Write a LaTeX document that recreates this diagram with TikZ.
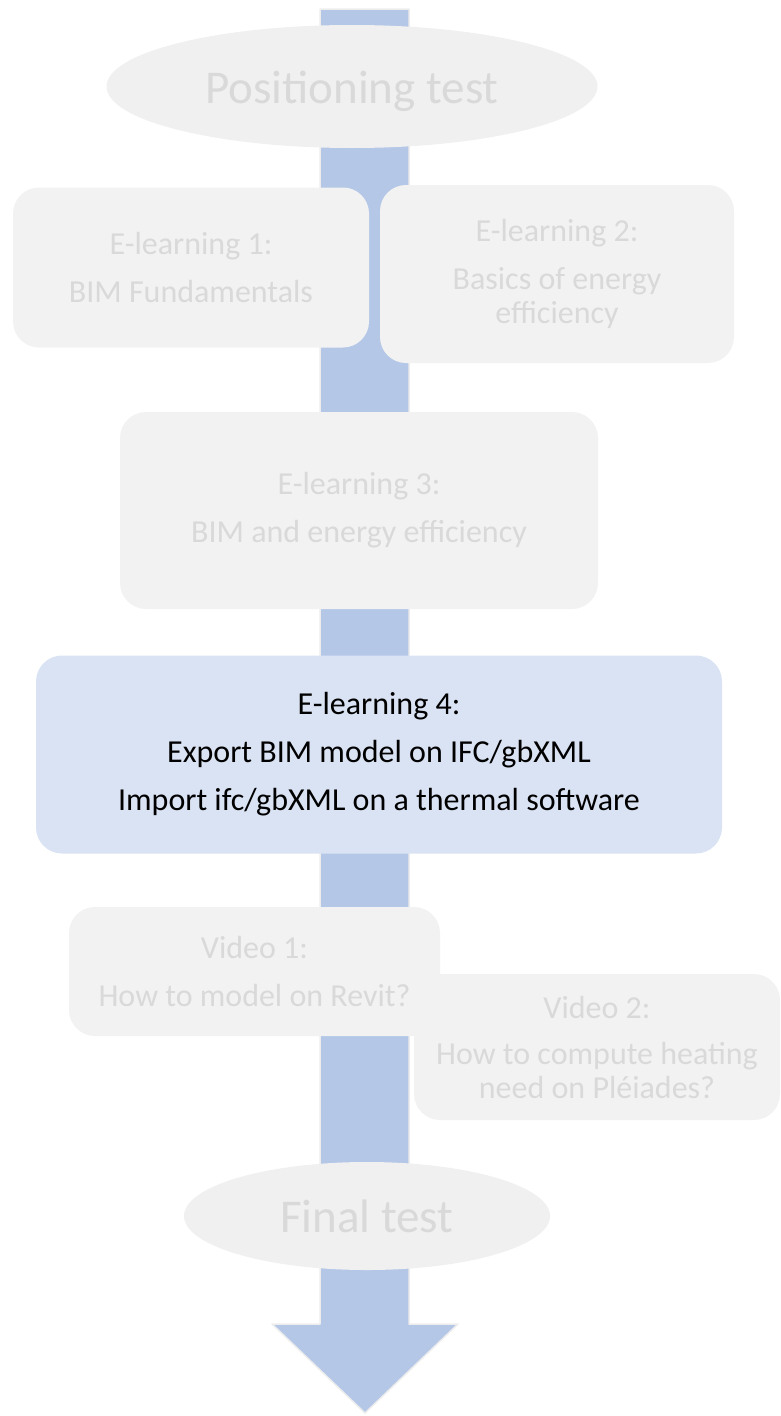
\documentclass[tikz,border=0pt]{standalone}
\usepackage{fontspec}
\setmainfont{Carlito}
\usetikzlibrary{shapes.geometric}
\definecolor{arrowblue}{HTML}{B4C7E7}
\definecolor{hlblue}{HTML}{DAE3F3}
\definecolor{boxgray}{HTML}{F2F2F2}
\definecolor{ellgray}{HTML}{F0F0F0}
\definecolor{txtgray}{HTML}{D9D9D9}
\definecolor{edgegray}{HTML}{EDEDED}
\begin{document}
\begin{tikzpicture}[x=1pt,y=-1pt,
  grayellipse/.style={ellipse, fill=ellgray, text=txtgray, inner sep=0pt,
    text height=33pt, text depth=0pt, font=\fontsize{47}{56}\selectfont},
  graybox/.style={rectangle, rounded corners=26pt, fill=boxgray, text=txtgray,
    align=center, inner sep=0pt, font=\fontsize{32}{34}\selectfont},
  hlbox/.style={graybox, fill=hlblue, text=black},
  flowarrow/.style={fill=arrowblue, draw=edgegray, line width=1.5pt, line join=round}]
\useasboundingbox (0,0) rectangle (780,1416);
% big background arrow
\path[flowarrow] (320,9) -- (409,9) -- (409,1324) -- (458,1324) -- (365,1413)
  -- (272,1324) -- (320,1324) -- cycle;
% nodes
\node[grayellipse, minimum width=491pt, minimum height=123pt] (pos) at (352,86.5) {Positioning test};
\node[graybox, minimum width=356pt, minimum height=160pt] (el1) at (191,267.5)
  {E-learning 1:\\[14pt]BIM Fundamentals};
\node[graybox, minimum width=354pt, minimum height=178pt] (el2) at (557,274)
  {E-learning 2:\\[14pt]Basics of energy\\efficiency};
\node[graybox, minimum width=478pt, minimum height=197pt] (el3) at (359,510.5)
  {E-learning 3:\\[14pt]BIM and energy efficiency};
\node[hlbox, minimum width=686pt, minimum height=198pt] (el4) at (379,754.5)
  {E-learning 4:\\[14pt]Export BIM model on IFC/gbXML\\[14pt]Import ifc/gbXML on a thermal software};
\node[graybox, minimum width=366pt, minimum height=146pt] (v2) at (597,1047)
  {Video 2:\\[12pt]How to compute heating\\need on Pléiades?};
\node[graybox, minimum width=371pt, minimum height=129pt] (v1) at (254.5,971.5)
  {Video 1:\\[14pt]How to model on Revit?};
\node[grayellipse, minimum width=366pt, minimum height=108pt] (fin) at (367,1216) {Final test};
\end{tikzpicture}
\end{document}
